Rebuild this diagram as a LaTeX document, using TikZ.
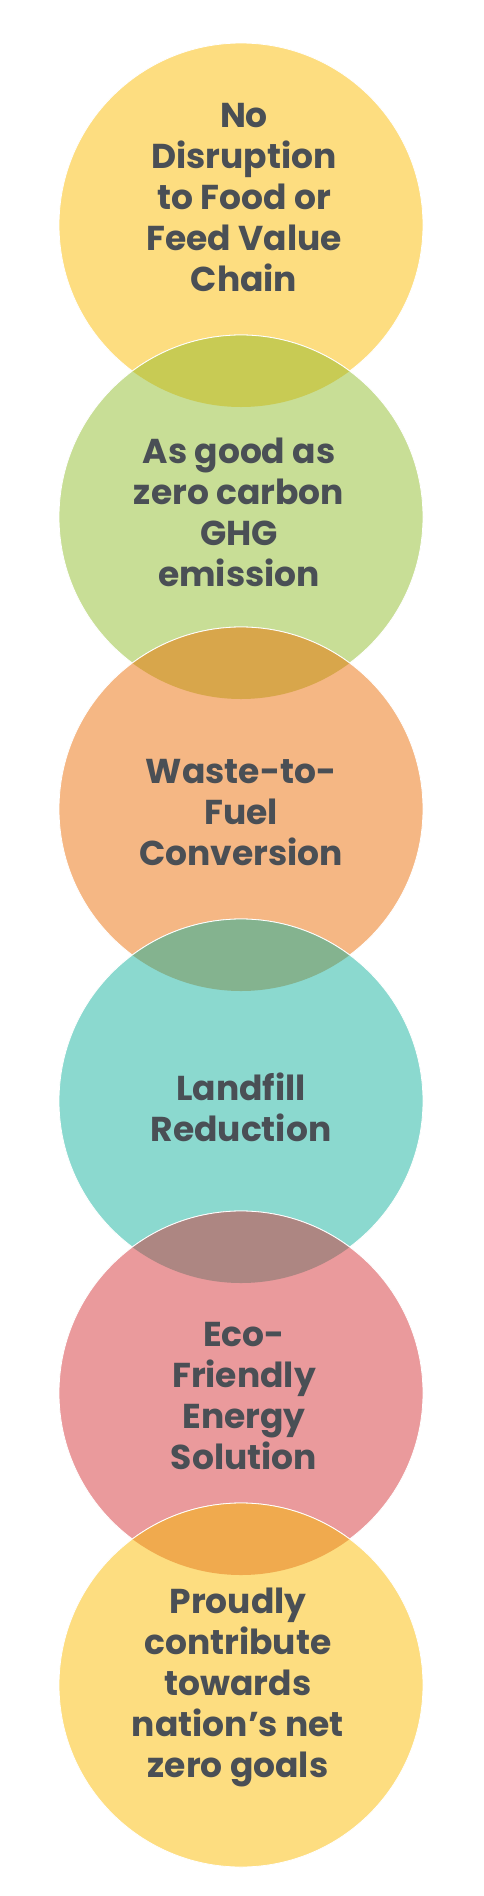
\documentclass[tikz,border=0pt]{standalone}
\usepackage{fontspec}
\setmainfont{Poppins}
\definecolor{cyellow}{HTML}{FDDD80}
\definecolor{cgreen}{HTML}{C8DE96}
\definecolor{corange}{HTML}{F5B784}
\definecolor{cteal}{HTML}{8BD9CF}
\definecolor{cpink}{HTML}{EA9A9C}
\definecolor{lensA}{HTML}{C8CB54}
\definecolor{lensB}{HTML}{D8A64B}
\definecolor{lensC}{HTML}{84B38F}
\definecolor{lensD}{HTML}{AD8682}
\definecolor{lensE}{HTML}{F0AA4E}
\definecolor{textgray}{HTML}{4A4F55}
\tikzset{
  bubble/.style={circle, minimum size=364pt, inner sep=0pt, draw=white, line width=0.8pt},
  label/.style={align=center, inner sep=0pt, text=textgray,
    font=\fontsize{34.5}{41}\selectfont\bfseries}
}
\begin{document}
\begin{tikzpicture}[x=1pt,y=1pt]
\useasboundingbox[fill=white] (0,0) rectangle (483,-1896);
% circles
\node[bubble, fill=cyellow] (c1) at (241,-225) {};
\node[bubble, fill=cgreen]  (c2) at (241,-517) {};
\begin{scope}
  \clip (c1.center) circle (182);
  \fill[lensA, draw=white, line width=0.8pt] (c2.center) circle (182);
\end{scope}
\node[bubble, fill=corange] (c3) at (241,-809) {};
\begin{scope}
  \clip (c2.center) circle (182);
  \fill[lensB, draw=white, line width=0.8pt] (c3.center) circle (182);
\end{scope}
\node[bubble, fill=cteal] (c4) at (241,-1101) {};
\begin{scope}
  \clip (c3.center) circle (182);
  \fill[lensC, draw=white, line width=0.8pt] (c4.center) circle (182);
\end{scope}
\node[bubble, fill=cpink] (c5) at (241,-1393) {};
\begin{scope}
  \clip (c4.center) circle (182);
  \fill[lensD, draw=white, line width=0.8pt] (c5.center) circle (182);
\end{scope}
\node[bubble, fill=cyellow] (c6) at (241,-1685) {};
\begin{scope}
  \clip (c5.center) circle (182);
  \fill[lensE, draw=white, line width=0.8pt] (c6.center) circle (182);
\end{scope}
% labels
\node[label] (t1) at (244,-198) {No\\Disruption\\to Food or\\Feed Value\\Chain};
\node[label] (t2) at (239,-512) {As good as\\zero carbon\\GHG\\emission};
\node[label] (t3) at (241,-813) {Waste-to-\\Fuel\\Conversion};
\node[label] (t4) at (241,-1107) {Landfill\\Reduction};
\node[label] (t5) at (244,-1396) {Eco-\\Friendly\\Energy\\Solution};
\node[label] (t6) at (238,-1687) {Proudly\\contribute\\towards\\nation’s net\\zero goals};
\end{tikzpicture}
\end{document}
